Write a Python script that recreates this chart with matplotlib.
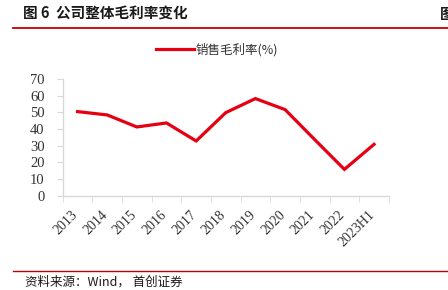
import matplotlib
matplotlib.use("Agg")
import matplotlib.pyplot as plt
from matplotlib.lines import Line2D
from matplotlib.transforms import ScaledTranslation
import numpy as np

categories = ["2013", "2014", "2015", "2016", "2017", "2018", "2019", "2020", "2021", "2022", "2023H1"]
gross_margin = [50.4, 48.4, 41.2, 43.6, 32.8, 49.8, 58.2, 51.6, 33.6, 15.8, 30.8]
yticks = [0, 10, 20, 30, 40, 50, 60, 70]

RED = "#e60012"
GRID = "#d9d9d9"
CJK = ["Noto Sans CJK SC", "DejaVu Sans"]
SERIF = ["Liberation Serif", "Noto Sans CJK SC"]

fig = plt.figure(figsize=(4.48, 2.90), dpi=100)
ax = fig.add_axes([0.14, 0.325, 0.728, 0.403])

x = np.arange(len(categories))
ax.plot(x, gross_margin, color=RED, lw=2.3, solid_joinstyle="miter")
ax.set_xlim(-0.5, len(categories) - 0.5)
ax.set_ylim(0, 70)
ax.set_yticks(yticks)
ax.set_yticklabels([str(v) for v in yticks], family=SERIF, fontsize=10.5, color="#333333")
ax.set_xticks(x)
ax.set_xticklabels(categories, rotation=45, ha="right", va="top", rotation_mode="anchor",
                   family=SERIF, fontsize=10, color="#333333")
ax.tick_params(axis="x", length=0, pad=9)
offset = ScaledTranslation(-6.5 / 100, 0, fig.dpi_scale_trans)
for lbl in ax.get_xticklabels():
    lbl.set_transform(lbl.get_transform() + offset)
ax.set_xticks(np.arange(-0.5, len(categories)), minor=True)
ax.tick_params(axis="x", which="minor", length=4, color=GRID, direction="out")
ax.tick_params(axis="y", length=4, color=GRID, pad=9)
for s in ["top", "right"]:
    ax.spines[s].set_visible(False)
for s in ["left", "bottom"]:
    ax.spines[s].set_color(GRID)
    ax.spines[s].set_linewidth(1.0)

# legend
handle = Line2D([0], [0], color=RED, lw=2.3)
leg = fig.legend([handle], ["销售毛利率(%)"], loc="center", bbox_to_anchor=(0.485, 0.83),
                 frameon=False, prop={"family": CJK, "size": 9}, handlelength=3.0,
                 handletextpad=0.2)
for t in leg.get_texts():
    t.set_color("#333333")

# title and rules
fig.text(0.052, 0.952, "图 6  公司整体毛利率变化", family=CJK, fontsize=10.5, weight="bold",
         va="center", ha="left", color="#1a1a1a")
fig.text(0.982, 0.952, "图", family=CJK, fontsize=10.5, weight="bold", va="center", ha="left",
         color="#1a1a1a")
fig.add_artist(Line2D([0.03, 1.0], [0.902, 0.902], color="#c00000", lw=1.3))
fig.add_artist(Line2D([0.03, 1.0], [0.066, 0.066], color="#c00000", lw=1.0))
fig.text(0.055, 0.026, "资料来源：Wind， 首创证券", family=CJK, fontsize=9, style="italic",
         va="center", ha="left", color="#1a1a1a")

fig.savefig("out.png", dpi=100)
